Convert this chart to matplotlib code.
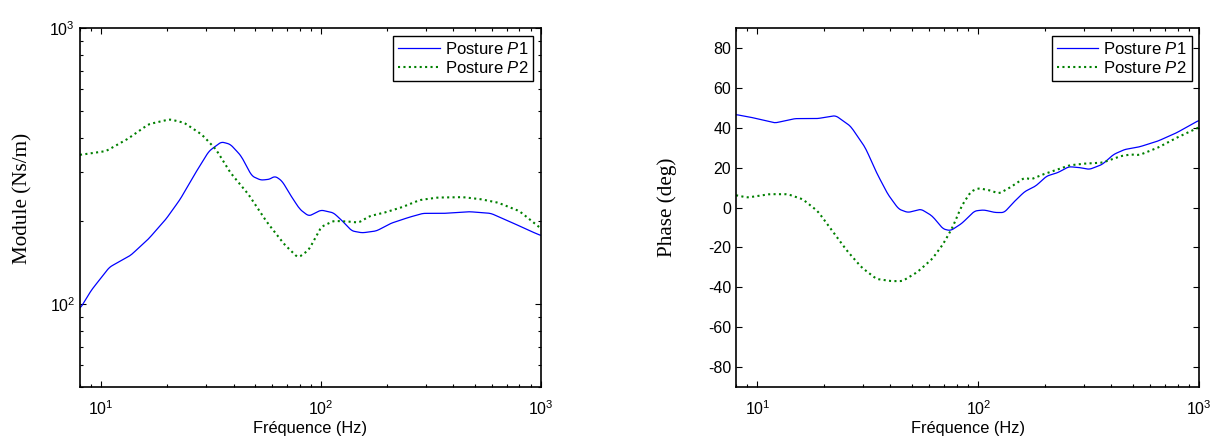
import numpy as np
import matplotlib.pyplot as plt
from matplotlib.ticker import LogLocator, NullFormatter

plt.rcParams['font.family'] = ['Liberation Sans', 'DejaVu Sans']
plt.rcParams['mathtext.fontset'] = 'custom'
plt.rcParams['mathtext.rm'] = 'Liberation Sans'
plt.rcParams['mathtext.it'] = 'Liberation Sans:italic'
plt.rcParams['axes.unicode_minus'] = False

# module, posture P1
f_mod_p1 = [8, 9.0, 10.9, 13.6, 16.4, 19.7, 22.9, 26.6, 30.9, 35.2, 38.7, 43.3,
            48.4, 53.2, 58.4, 61.7, 66.5, 73.1, 80.2, 88.1, 100, 114, 125, 138,
            154, 179, 208, 251, 291, 364, 473, 593, 742, 894, 1000]
mod_p1 = [96, 112, 136, 150, 172, 203, 240, 295, 358, 387, 379, 344,
          291, 281, 283, 291, 279, 246, 220, 208, 219, 214, 200, 184,
          181, 184, 196, 206, 213, 213, 216, 213, 197, 184, 177]

# module, posture P2
f_mod_p2 = [8, 10.5, 13.1, 16.4, 20.5, 23.8, 28.7, 33.3, 38.7, 46.7, 56.2, 67.8,
            78.7, 88, 100, 114, 133, 148, 166, 193, 233, 281, 338, 439, 529,
            638, 800, 1000]
mod_p2 = [347, 358, 395, 448, 467, 454, 411, 363, 299, 250, 200, 165,
          147, 157, 190, 200, 199, 197, 208, 214, 224, 238, 243, 244, 240,
          233, 217, 188]

# phase, posture P1
f_ph_p1 = [8, 9.3, 12.0, 14.8, 18.7, 22.6, 26.4, 30.8, 34.6, 38.9, 43.6, 48.0,
           55.0, 61.8, 69.3, 74.9, 84.1, 96.2, 106, 119, 131, 144, 162, 182,
           204, 229, 257, 289, 318, 364, 409, 459, 535, 649, 787, 1000]
ph_p1 = [46.6, 45.3, 42.4, 44.6, 44.6, 46.1, 40.8, 30.0, 17.5, 6.7, -0.8, -2.5,
         -0.8, -4.2, -10.8, -11.6, -8.0, -1.7, -1.2, -2.5, -2.5, 2.5, 8.0, 10.8,
         15.8, 17.5, 20.5, 20.0, 19.1, 21.6, 26.6, 29.1, 30.4, 33.3, 37.4, 43.8]

# phase, posture P2
f_ph_p2 = [8, 9.0, 11.3, 13.7, 16.0, 18.7, 21.8, 25.4, 29.6, 34.6, 40.4, 45.3,
           52.9, 61.8, 69.3, 76.4, 84, 92.5, 100, 112, 124, 139, 162, 173, 196,
           229, 257, 300, 364, 441, 491, 535, 649, 787, 1000]
ph_p2 = [6.2, 5.0, 6.7, 6.7, 4.2, -1.7, -11.6, -21.6, -30.0, -35.8, -36.9, -36.9,
         -32.4, -25.8, -18.3, -10.0, 0.8, 8.0, 9.7, 8.7, 7.0, 10.0, 15.0, 14.1, 16.6,
         19.1, 21.1, 22.0, 22.5, 25.8, 26.6, 26.3, 30.0, 34.9, 40.3]

labels = ['Posture $\\mathit{P1}$', 'Posture $\\mathit{P2}$']
blue = '#0000ff'
green = '#008000'


def smooth(fx, vals, log_y=False):
    # resample on a dense log grid so the curves look continuous
    fx = np.log10(fx)
    grid = np.linspace(fx[0], fx[-1], 400)
    v = np.log10(vals) if log_y else np.asarray(vals, float)
    out = np.interp(grid, fx, v)
    k = np.ones(5) / 5
    pad = np.pad(out, 2, mode='edge')
    out = np.convolve(pad, k, mode='valid')
    if log_y:
        out = 10 ** out
    return 10 ** grid, out


def style(ax):
    ax.set_xscale('log')
    ax.set_xlim(8, 1000)
    ax.tick_params(which='both', direction='in', top=True, right=True,
                   labelsize=11.5, width=0.8)
    ax.tick_params(which='major', length=4.5)
    ax.tick_params(which='minor', length=2.5)
    ax.tick_params(axis='x', which='major', pad=9)
    for s in ax.spines.values():
        s.set_linewidth(1.2)
    ax.xaxis.set_minor_locator(LogLocator(base=10, subs=np.arange(2, 10)))
    ax.xaxis.set_minor_formatter(NullFormatter())
    ax.set_xlabel('Fréquence (Hz)', fontsize=11.8, labelpad=2)
    leg = ax.legend(loc='upper right', fontsize=12, fancybox=False,
                    framealpha=1, edgecolor='black', handlelength=2.5,
                    borderpad=0.3, labelspacing=0.2, handletextpad=0.3,
                    borderaxespad=0.45)
    leg.get_frame().set_linewidth(1.0)


fig = plt.figure(figsize=(12.19, 4.41), dpi=100)
ax1 = fig.add_axes([0.0656, 0.1224, 0.378, 0.814])
ax2 = fig.add_axes([0.6038, 0.1224, 0.380, 0.814])

x, y = smooth(f_mod_p1, mod_p1, log_y=True)
ax1.plot(x, y, color=blue, lw=0.9, label=labels[0])
x, y = smooth(f_mod_p2, mod_p2, log_y=True)
ax1.plot(x, y, color=green, lw=1.5, ls=(0, (1, 1.6)), label=labels[1])
ax1.set_yscale('log')
ax1.set_ylim(50, 1000)
ax1.yaxis.set_minor_locator(LogLocator(base=10, subs=np.arange(2, 10)))
ax1.yaxis.set_minor_formatter(NullFormatter())
ax1.set_ylabel('Module (Ns/m)', family='Liberation Serif', fontsize=15.2)
ax1.yaxis.set_label_coords(-0.102, 0.525)
style(ax1)

x, y = smooth(f_ph_p1, ph_p1)
ax2.plot(x, y, color=blue, lw=0.9, label=labels[0])
x, y = smooth(f_ph_p2, ph_p2)
ax2.plot(x, y, color=green, lw=1.5, ls=(0, (1, 1.6)), label=labels[1])
ax2.set_ylim(-90, 90)
ax2.set_yticks(np.arange(-80, 81, 20))
ax2.set_ylabel('Phase (deg)', family='Liberation Serif', fontsize=15.2)
ax2.yaxis.set_label_coords(-0.127, 0.5)
style(ax2)

fig.savefig('out.png', dpi=100)
